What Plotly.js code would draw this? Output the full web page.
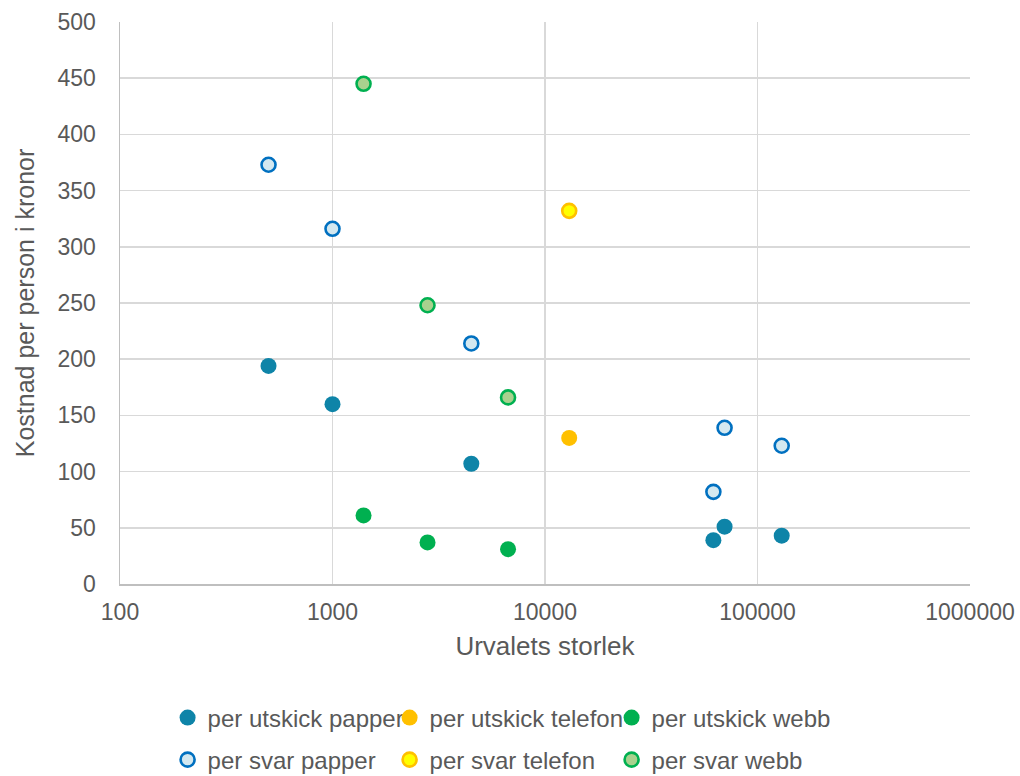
<!DOCTYPE html>
<html>
<head>
<meta charset="utf-8">
<script src="https://cdn.plot.ly/plotly-3.0.1.min.js"></script>
<style>html,body{margin:0;padding:0;background:#fff}#chart{width:1020px;height:776px}</style>
</head>
<body>
<div id="chart"></div>
<script>
// Data (x = urvalets storlek, y = kostnad per person i kronor)
const papperX = [500, 1000, 4500, 62000, 70000, 130000];
const utskickPapperY = [194, 160, 107, 39, 51, 43];
const svarPapperY = [373, 316, 214, 82, 139, 123];

const telefonX = [13000];
const utskickTelefonY = [130];
const svarTelefonY = [332];

const webbX = [1400, 2800, 6700];
const utskickWebbY = [61, 37, 31];
const svarWebbY = [445, 248, 166];

const seriesNames = ["per utskick papper", "per utskick telefon", "per utskick webb",
                     "per svar papper", "per svar telefon", "per svar webb"];

const xTickVals = [100, 1000, 10000, 100000, 1000000];
const xTickText = ["100", "1000", "10000", "100000", "1000000"];

function filled(x, y, name, color, leg) {
  return {type: 'scatter', mode: 'markers', x: x, y: y, name: name, legend: leg,
    marker: {size: 16, color: color, line: {width: 0}}};
}
function hollow(x, y, name, fill, line, leg) {
  return {type: 'scatter', mode: 'markers', x: x, y: y, name: name, legend: leg,
    marker: {size: 14, color: fill, line: {width: 2.6, color: line}}};
}

const traces = [
  filled(papperX, utskickPapperY, seriesNames[0], '#0E84A8', 'legend'),
  filled(telefonX, utskickTelefonY, seriesNames[1], '#FFC000', 'legend'),
  filled(webbX, utskickWebbY, seriesNames[2], '#00B050', 'legend'),
  hollow(papperX, svarPapperY, seriesNames[3], '#D3E8F0', '#0070C0', 'legend2'),
  hollow(telefonX, svarTelefonY, seriesNames[4], '#FFFF00', '#FFC000', 'legend2'),
  hollow(webbX, svarWebbY, seriesNames[5], '#A9D18E', '#00B050', 'legend2')
];

const legendBase = {
  orientation: 'h', x: 0.056, xanchor: 'left', yanchor: 'middle',
  entrywidth: 177, entrywidthmode: 'pixels', itemwidth: 30,
  font: {size: 24, color: '#595959'}, bgcolor: 'rgba(0,0,0,0)'
};

const layout = {
  width: 1020, height: 776,
  margin: {l: 120, r: 50, t: 22, b: 192, autoexpand: false},
  paper_bgcolor: '#fff', plot_bgcolor: '#fff',
  font: {family: 'Liberation Sans, Arial, sans-serif', size: 23, color: '#595959'},
  showlegend: true,
  xaxis: {
    type: 'log', range: [2, 6],
    tickvals: xTickVals, ticktext: xTickText,
    showgrid: true, gridcolor: '#D9D9D9', gridwidth: 1.5,
    showline: true, linecolor: '#BFBFBF', linewidth: 1.5,
    zeroline: false, ticks: '', ticklabelstandoff: 7,
    tickfont: {size: 23, color: '#595959'},
    title: {text: 'Urvalets storlek', font: {size: 26, color: '#595959'}, standoff: 12}
  },
  yaxis: {
    range: [0, 500], dtick: 50, tick0: 0,
    showgrid: true, gridcolor: '#D9D9D9', gridwidth: 1.5,
    showline: true, linecolor: '#BFBFBF', linewidth: 1.5,
    zeroline: false, ticks: '', ticklabelstandoff: 18,
    tickfont: {size: 23, color: '#595959'},
    title: {text: 'Kostnad per person i kronor', font: {size: 25, color: '#595959'}, standoff: 16}
  },
  legend: Object.assign({}, legendBase, {y: -0.2384}),
  legend2: Object.assign({}, legendBase, {y: -0.3132})
};

Plotly.newPlot('chart', traces, layout, {displayModeBar: false, staticPlot: true});
</script>
</body>
</html>
